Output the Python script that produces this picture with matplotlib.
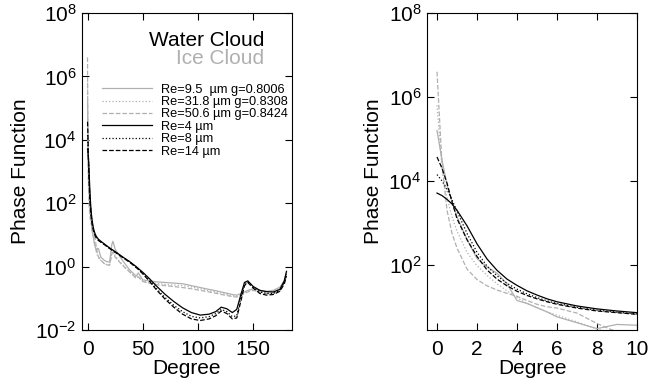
import numpy as np
import matplotlib.pyplot as plt

plt.rcParams['font.family'] = ['Liberation Sans', 'DejaVu Sans']
plt.rcParams['mathtext.fontset'] = 'custom'
plt.rcParams['mathtext.rm'] = 'Liberation Sans'

# scattering angle (deg) and log10(phase function)
angle = [0, 0.25, 0.5, 0.75, 1, 1.5, 2, 2.5, 3, 3.5, 4, 4.5, 5, 5.5, 6, 7, 8, 9, 10,
         12, 15, 18, 20, 22, 23, 25, 28, 32, 38, 44, 46, 50, 56, 62, 70, 78, 86, 94,
         102, 110, 116, 121, 126, 131, 135, 139, 142, 145, 150, 156, 162, 168, 174,
         178, 180]

# ice cloud
ice_95 = [5.2, 4.5, 3.9, 3.5, 3.15, 2.6, 2.15, 1.95, 1.8, 1.55, 1.15, 1.08, 0.98, 0.88,
          0.76, 0.62, 0.48, 0.58, 0.56,
          0.3, 0.2, 0.15, 0.15, 0.7, 0.8, 0.55, 0.38, 0.18, -0.1, -0.3, -0.2, -0.42,
          -0.45, -0.48, -0.5, -0.52, -0.54, -0.6, -0.66, -0.72, -0.76, -0.8, -0.84,
          -0.88, -0.9, -0.85, -0.8, -0.75, -0.7, -0.75, -0.78, -0.75, -0.65, -0.45, -0.2]
ice_318 = [5.8, 4.3, 3.6, 3.15, 2.8, 2.3, 1.98, 1.75, 1.55, 1.38, 1.22, 1.08, 0.98, 0.88,
           0.8, 0.64, 0.47, 0.35, 0.28,
           0.2, 0.1, 0.05, 0.05, 0.45, 0.5, 0.35, 0.2, 0.05, -0.15, -0.35, -0.3, -0.45,
           -0.5, -0.53, -0.56, -0.58, -0.6, -0.64, -0.7, -0.76, -0.8, -0.84, -0.88,
           -0.92, -0.93, -0.88, -0.82, -0.77, -0.72, -0.78, -0.82, -0.8, -0.7, -0.5, -0.25]
ice_506 = [6.6, 4.4, 3.3, 2.75, 2.4, 1.9, 1.65, 1.5, 1.4, 1.32, 1.25, 1.15, 1.06, 1.0,
           0.97, 0.85, 0.6, 0.4, 0.3,
           0.2, 0.1, 0.05, 0.05, 0.4, 0.45, 0.3, 0.18, 0.03, -0.17, -0.37, -0.33, -0.47,
           -0.53, -0.57, -0.6, -0.63, -0.66, -0.7, -0.75, -0.8, -0.84, -0.88, -0.91,
           -0.95, -0.96, -0.9, -0.85, -0.8, -0.75, -0.8, -0.85, -0.83, -0.72, -0.52, -0.28]

# water cloud
water_4 = [3.71, 3.65, 3.56, 3.45, 3.3, 2.93, 2.5, 2.14, 1.87, 1.66, 1.51, 1.38, 1.28, 1.19,
           1.12, 1.02, 0.95, 0.9, 0.86,
           0.8, 0.72, 0.64, 0.59, 0.54, 0.52, 0.47, 0.4, 0.3, 0.16, 0.0, -0.06, -0.18,
           -0.38, -0.6, -0.87, -1.1, -1.3, -1.45, -1.53, -1.5, -1.42, -1.28, -1.33,
           -1.45, -1.35, -0.85, -0.5, -0.45, -0.63, -0.75, -0.79, -0.8, -0.72, -0.45, -0.15]
water_8 = [4.15, 4.0, 3.8, 3.55, 3.28, 2.75, 2.3, 1.97, 1.74, 1.56, 1.42, 1.31, 1.22, 1.14,
           1.08, 0.99, 0.92, 0.87, 0.83,
           0.78, 0.71, 0.63, 0.58, 0.53, 0.51, 0.46, 0.39, 0.29, 0.15, -0.02, -0.08, -0.21,
           -0.43, -0.68, -0.97, -1.22, -1.42, -1.57, -1.62, -1.58, -1.48, -1.35, -1.42,
           -1.58, -1.55, -0.95, -0.55, -0.48, -0.65, -0.8, -0.85, -0.85, -0.75, -0.5, -0.25]
water_14 = [4.57, 4.3, 3.95, 3.5, 3.1, 2.6, 2.2, 1.88, 1.66, 1.5, 1.37, 1.27, 1.19, 1.12,
            1.06, 0.97, 0.9, 0.86, 0.82,
            0.77, 0.7, 0.62, 0.57, 0.52, 0.5, 0.45, 0.38, 0.28, 0.14, -0.03, -0.09, -0.23,
            -0.46, -0.72, -1.02, -1.28, -1.5, -1.65, -1.7, -1.65, -1.55, -1.4, -1.48,
            -1.65, -1.62, -1.05, -0.6, -0.5, -0.68, -0.85, -0.9, -0.88, -0.78, -0.55, -0.3]

labels = ['Re=9.5  \u00b5m g=0.8006', 'Re=31.8 \u00b5m g=0.8308', 'Re=50.6 \u00b5m g=0.8424',
          'Re=4 \u00b5m', 'Re=8 \u00b5m', 'Re=14 \u00b5m']

GRAY = '#b0b0b0'
series = [
    (ice_95, GRAY, '-'),
    (ice_318, GRAY, ':'),
    (ice_506, GRAY, '--'),
    (water_4, 'black', '-'),
    (water_8, 'black', ':'),
    (water_14, 'black', '--'),
]

fig = plt.figure(figsize=(6.49, 3.87), dpi=100)
ax1 = fig.add_axes([82 / 649, 57 / 387, 210 / 649, 317 / 387])
ax2 = fig.add_axes([427 / 649, 57 / 387, 210 / 649, 317 / 387])

x = np.array(angle)
for ax in (ax1, ax2):
    for (vals, col, ls), lab in zip(series, labels):
        ax.plot(x, 10 ** np.array(vals), color=col, ls=ls, lw=0.9, label=lab)
    ax.set_yscale('log')
    ax.minorticks_off()
    ax.tick_params(direction='in', top=True, right=True, length=5, width=0.8,
                   labelsize=15, pad=4)
    ax.tick_params(axis='x', pad=7)
    ax.set_xlabel('Degree', fontsize=15, labelpad=0)
    ax.set_ylabel('Phase Function', fontsize=15, labelpad=4)

ax1.set_xlim(-5, 185)
ax1.set_ylim(1e-2, 1e8)
ax1.set_xticks([0, 50, 100, 150])
ax1.set_yticks([1e-2, 1e0, 1e2, 1e4, 1e6, 1e8])

ax2.set_xlim(-0.5, 10)
ax2.set_ylim(2.8, 1e8)
ax2.set_xticks([0, 2, 4, 6, 8, 10])
ax2.set_yticks([1e2, 1e4, 1e6, 1e8])

ax1.text(0.867, 0.895, 'Water Cloud', transform=ax1.transAxes, ha='right',
         va='baseline', fontsize=15, color='black')
ax1.text(0.867, 0.838, 'Ice Cloud', transform=ax1.transAxes, ha='right',
         va='baseline', fontsize=15, color=GRAY)
ax1.legend(loc='upper left', bbox_to_anchor=(0.095, 0.777), frameon=False,
           fontsize=9.2, handlelength=3.9, handletextpad=0.7, labelspacing=0.03,
           borderpad=0, borderaxespad=0)

fig.savefig('out.png', dpi=100)
